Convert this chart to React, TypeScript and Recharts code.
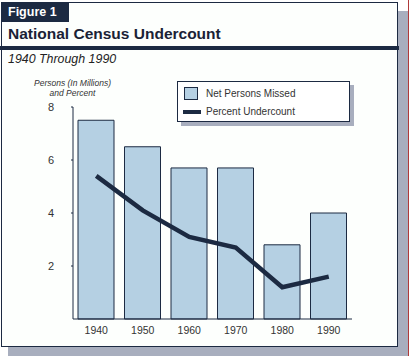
import React from 'react';
import { ComposedChart, Bar, Line, XAxis, YAxis, Legend } from 'recharts';

const years = ['1940', '1950', '1960', '1970', '1980', '1990'];
const personsMissed = [7.5, 6.5, 5.7, 5.7, 2.8, 4.0];
const percentUndercount = [5.4, 4.1, 3.1, 2.7, 1.2, 1.6];
const yTicks = [2, 4, 6, 8];
const seriesNames = ['Net Persons Missed', 'Percent Undercount'];

const NAVY = '#1c2a42';
const BAR = '#b5d0e3';
const SHADOW = '#a8aebe';
const TEXT = '#333333';
const FONT = "Arial, 'Liberation Sans', Helvetica, sans-serif";

const data = years.map((y, i) => ({
  year: y,
  missed: personsMissed[i],
  percent: percentUndercount[i],
}));

const LegendBox = () => (
  <div
    style={{
      position: 'relative',
      width: 173,
      height: 41,
      boxSizing: 'border-box',
      border: `1px solid ${NAVY}`,
      background: '#ffffff',
      boxShadow: `4px 4px 0 ${SHADOW}`,
      fontFamily: FONT,
      fontSize: 10,
      color: TEXT,
    }}
  >
    <div
      style={{
        position: 'absolute',
        left: 6,
        top: 5,
        width: 14,
        height: 13,
        boxSizing: 'border-box',
        border: `1px solid ${NAVY}`,
        background: BAR,
      }}
    />
    <div style={{ position: 'absolute', left: 28, top: 6, lineHeight: '12px', whiteSpace: 'nowrap' }}>
      {seriesNames[0]}
    </div>
    <div
      style={{
        position: 'absolute',
        left: 5,
        top: 28,
        width: 18,
        height: 4,
        background: NAVY,
      }}
    />
    <div style={{ position: 'absolute', left: 28, top: 24, lineHeight: '12px', whiteSpace: 'nowrap' }}>
      {seriesNames[1]}
    </div>
  </div>
);

export default function App() {
  return (
    <div
      style={{
        position: 'absolute',
        left: 0,
        top: 0,
        width: 410,
        height: 356,
        background: '#ffffff',
        fontFamily: FONT,
        overflow: 'hidden',
      }}
    >
      {/* shadows */}
      <div style={{ position: 'absolute', left: 398, top: 11, width: 10, height: 345, background: SHADOW }} />
      <div style={{ position: 'absolute', left: 8, top: 347, width: 400, height: 9, background: SHADOW }} />
      <div style={{ position: 'absolute', left: 408, top: 0, width: 1, height: 356, background: '#b03a3a' }} />
      {/* frame */}
      <div
        style={{
          position: 'absolute',
          left: 1,
          top: 2,
          width: 397,
          height: 345,
          boxSizing: 'border-box',
          border: `1px solid ${NAVY}`,
          background: '#fdfffd',
        }}
      />
      {/* tab */}
      <div
        style={{
          position: 'absolute',
          left: 1,
          top: 2,
          width: 68,
          height: 20,
          background: NAVY,
          color: '#ffffff',
          fontWeight: 'bold',
          fontSize: 12.5,
          lineHeight: '20px',
          paddingLeft: 7,
          boxSizing: 'border-box',
          whiteSpace: 'nowrap',
        }}
      >
        Figure 1
      </div>
      {/* title */}
      <div
        style={{
          position: 'absolute',
          left: 8,
          top: 25,
          fontWeight: 'bold',
          fontSize: 15.5,
          lineHeight: '18px',
          color: '#1a2236',
          whiteSpace: 'nowrap',
        }}
      >
        National Census Undercount
      </div>
      <div style={{ position: 'absolute', left: 0, top: 46, width: 399, height: 4, background: NAVY }} />
      <div
        style={{
          position: 'absolute',
          left: 8,
          top: 52,
          fontStyle: 'italic',
          fontSize: 12.4,
          lineHeight: '14px',
          color: '#222222',
          whiteSpace: 'nowrap',
        }}
      >
        1940 Through 1990
      </div>
      {/* y axis title */}
      <div
        style={{
          position: 'absolute',
          left: 22,
          top: 77.5,
          width: 101,
          textAlign: 'center',
          fontStyle: 'italic',
          fontSize: 8.5,
          lineHeight: '10px',
          color: TEXT,
        }}
      >
        Persons (In Millions)
        <br />
        and Percent
      </div>
      <div style={{ position: 'absolute', left: 0, top: 0 }}>
        <ComposedChart
          width={410}
          height={356}
          data={data}
          margin={{ top: 107, right: 58, bottom: 7, left: 43 }}
          barSize={36}
        >
          <XAxis
            dataKey="year"
            axisLine={{ stroke: NAVY, strokeWidth: 1 }}
            tickLine={false}
            tick={{ fill: TEXT, fontSize: 10.5, fontFamily: FONT }}
            tickSize={6}
            tickMargin={2}
            height={30}
          />
          <YAxis
            domain={[0, 8]}
            ticks={yTicks}
            width={30}
            axisLine={{ stroke: NAVY, strokeWidth: 1 }}
            tickLine={{ stroke: NAVY }}
            tickSize={2}
            tickMargin={17}
            tick={{ fill: TEXT, fontSize: 11, fontFamily: FONT }}
          />
          <Legend
            layout="horizontal"
            verticalAlign="middle"
            align="center"
            wrapperStyle={{ left: 177, top: 81, width: 177, height: 46 }}
            content={() => <LegendBox />}
          />
          <Bar
            dataKey="missed"
            name={seriesNames[0]}
            fill={BAR}
            stroke={NAVY}
            strokeWidth={1}
            isAnimationActive={false}
          />
          <Line
            dataKey="percent"
            name={seriesNames[1]}
            type="linear"
            stroke={NAVY}
            strokeWidth={4.5}
            dot={false}
            activeDot={false}
            isAnimationActive={false}
          />
        </ComposedChart>
      </div>
    </div>
  );
}
